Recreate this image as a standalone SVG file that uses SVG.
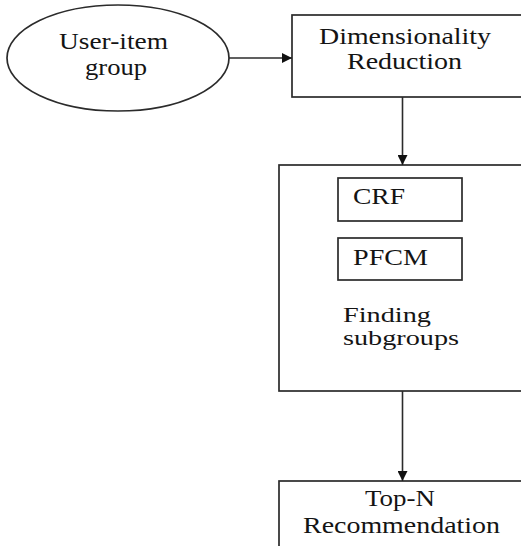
<svg xmlns="http://www.w3.org/2000/svg" width="521" height="546" viewBox="0 0 521 546">
<style>
.shape{fill:none;stroke:#2b2b2b;stroke-width:1.7}
.lbl{font-family:"Liberation Serif","Times New Roman",Times,serif;font-size:24px;fill:#141414}
.sm{font-size:22px}
.conn{fill:none;stroke:#2b2b2b;stroke-width:1.6}
</style>
<defs>
<marker id="arr" viewBox="0 0 10 10" refX="10" refY="5" markerWidth="10" markerHeight="10" markerUnits="userSpaceOnUse" orient="auto">
<path d="M0,0 L10,5 L0,10 Z" fill="#111"/>
</marker>
</defs>
<rect width="521" height="546" fill="#fff"/>
<g id="user-item-group">
<ellipse class="shape" cx="118" cy="58" rx="111" ry="53"/>
<text class="lbl" x="59" y="49" textLength="109" lengthAdjust="spacingAndGlyphs">User-item</text>
<text class="lbl" x="85" y="75" textLength="62" lengthAdjust="spacingAndGlyphs">group</text>
</g>
<g id="dimensionality-reduction">
<rect class="shape" x="292" y="15" width="240" height="82"/>
<text class="lbl" x="319" y="44" textLength="172" lengthAdjust="spacingAndGlyphs">Dimensionality</text>
<text class="lbl" x="347" y="69" textLength="115" lengthAdjust="spacingAndGlyphs">Reduction</text>
</g>
<g id="finding-subgroups">
<rect class="shape" x="279" y="165" width="250" height="226"/>
<text class="lbl sm" x="343" y="322" textLength="88" lengthAdjust="spacingAndGlyphs">Finding</text>
<text class="lbl sm" x="343" y="345" textLength="116" lengthAdjust="spacingAndGlyphs">subgroups</text>
</g>
<g id="crf">
<rect class="shape" x="338" y="178" width="124" height="43"/>
<text class="lbl" x="353" y="204" textLength="52" lengthAdjust="spacingAndGlyphs">CRF</text>
</g>
<g id="pfcm">
<rect class="shape" x="338" y="238" width="124" height="42"/>
<text class="lbl" x="353" y="265" textLength="75" lengthAdjust="spacingAndGlyphs">PFCM</text>
</g>
<g id="top-n-recommendation">
<rect class="shape" x="279" y="481" width="250" height="80"/>
<text class="lbl" x="365" y="506" textLength="70" lengthAdjust="spacingAndGlyphs">Top-N</text>
<text class="lbl" x="303" y="533" textLength="197" lengthAdjust="spacingAndGlyphs">Recommendation</text>
</g>
<g id="connectors">
<line class="conn" x1="229" y1="58" x2="292" y2="58" marker-end="url(#arr)"/>
<line class="conn" x1="402.5" y1="97" x2="402.5" y2="165" marker-end="url(#arr)"/>
<line class="conn" x1="402.5" y1="391" x2="402.5" y2="481" marker-end="url(#arr)"/>
</g>
</svg>
